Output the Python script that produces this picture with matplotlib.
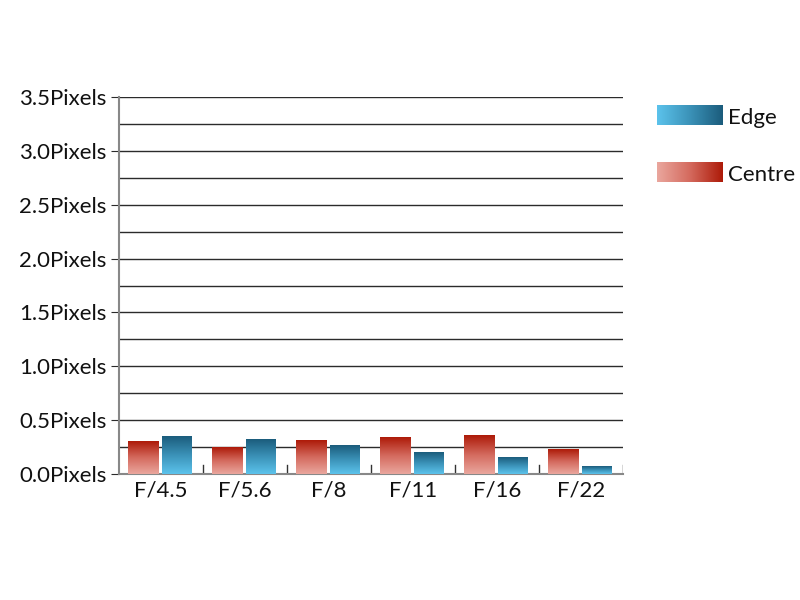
import numpy as np
import matplotlib.pyplot as plt
from matplotlib.colors import LinearSegmentedColormap

apertures = ['F/4.5', 'F/5.6', 'F/8', 'F/11', 'F/16', 'F/22']
centre = [0.30, 0.25, 0.31, 0.34, 0.36, 0.23]
edge = [0.35, 0.32, 0.26, 0.20, 0.15, 0.07]
y_labels = ['0.0Pixels', '0.5Pixels', '1.0Pixels', '1.5Pixels',
            '2.0Pixels', '2.5Pixels', '3.0Pixels', '3.5Pixels']

red_cmap = LinearSegmentedColormap.from_list('red', ['#eaa79e', '#d46a5e', '#ad1a08'])
blue_cmap = LinearSegmentedColormap.from_list('blue', ['#5cc3ec', '#3b92b8', '#1b5c7c'])
grad = np.linspace(0, 1, 256).reshape(-1, 1)


def main():
    plt.rcParams['font.family'] = ['Lato', 'DejaVu Sans']
    fig = plt.figure(figsize=(8, 6), dpi=100)
    ax = fig.add_axes([119 / 800, 126 / 600, 504 / 800, 377 / 600])

    for i in range(len(apertures)):
        x0 = i + 0.107
        ax.imshow(grad, cmap=red_cmap, origin='lower', aspect='auto',
                  extent=[x0, x0 + 0.36, 0, centre[i]], zorder=3)
        x1 = i + 0.512
        ax.imshow(grad, cmap=blue_cmap, origin='lower', aspect='auto',
                  extent=[x1, x1 + 0.35, 0, edge[i]], zorder=3)

    ax.set_xlim(0, len(apertures))
    ax.set_ylim(0, 3.5)
    for y in np.arange(0.25, 3.51, 0.25):
        ax.axhline(y, color='#2b2b2b', lw=1, zorder=1)

    for s in ['top', 'right']:
        ax.spines[s].set_visible(False)
    ax.spines['left'].set_color('#888888')
    ax.spines['bottom'].set_color('#888888')
    ax.spines['left'].set_linewidth(1.5)
    ax.spines['bottom'].set_linewidth(1.5)

    ax.set_yticks(np.arange(0, 3.51, 0.5))
    ax.set_yticklabels(y_labels, fontsize=16, color='#111111')
    ax.tick_params(axis='y', length=6, color='#2b2b2b', pad=3)

    ax.set_xticks(np.arange(len(apertures)) + 0.5)
    ax.set_xticklabels(apertures, fontsize=16, color='#111111')
    ax.tick_params(axis='x', length=0, pad=5)
    for i in range(1, len(apertures) + 1):
        ax.plot([i, i], [0, 0.08], color='#333333', lw=1, zorder=2)

    hgrad = np.linspace(0, 1, 256).reshape(1, -1)
    for cmap, label, ytop in [(blue_cmap, 'Edge', 105), (red_cmap, 'Centre', 162)]:
        lax = fig.add_axes([657 / 800, 1 - (ytop + 20) / 600, 65 / 800, 20 / 600])
        lax.imshow(hgrad, cmap=cmap, aspect='auto')
        lax.axis('off')
        fig.text(728 / 800, 1 - (ytop + 13) / 600, label, fontsize=16,
                 va='center', color='#111111')

    fig.savefig('out.png', dpi=100)


if __name__ == '__main__':
    main()
